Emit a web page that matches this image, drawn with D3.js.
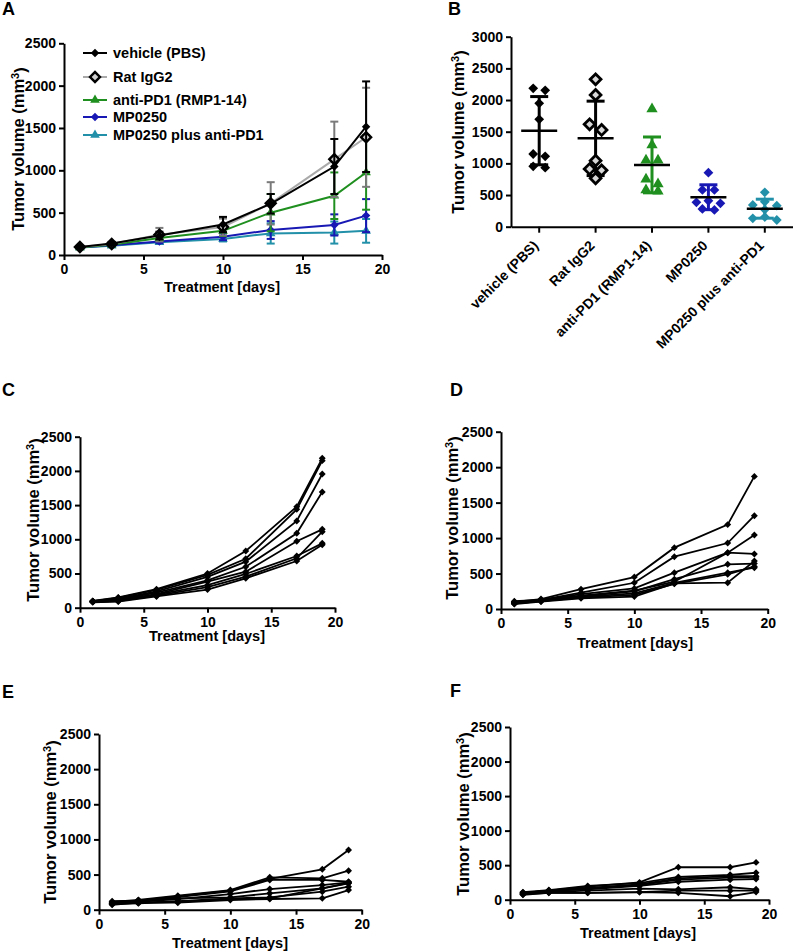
<!DOCTYPE html>
<html>
<head>
<meta charset="utf-8">
<script src="https://cdn.jsdelivr.net/npm/d3@7"></script>
<style>
body { margin: 0; background: #fff; }
svg text { font-family: "Liberation Sans", Arial, sans-serif; font-weight: bold; fill: #000; }
.tick text { font-size: 14px; }
.title { font-size: 14.5px; }
.ytitle { font-size: 16.5px; }
.plabel { font-size: 18px; }
.legend { font-size: 14.5px; }
</style>
</head>
<body>
<script>
const days = [1, 3, 6, 10, 13, 17, 19];
const groups = ["vehicle (PBS)", "Rat IgG2", "anti-PD1 (RMP1-14)", "MP0250", "MP0250 plus anti-PD1"];
const lineColors = ["#000000", "#a9a9a9", "#1f8f1f", "#1818b4", "#2190a8"];
const barColors = ["#000000", "#7a7a7a", "#1f8f1f", "#1818b4", "#2190a8"];

// A: group mean and SD per day
const meanVehicle = [95, 135, 230, 360, 605, 1045, 1515];
const sdVehicle = [10, 20, 45, 90, 115, 325, 535];
const meanIgG = [95, 130, 240, 330, 610, 1130, 1390];
const sdIgG = [10, 15, 80, 100, 250, 445, 585];
const meanAntiPD1 = [90, 120, 200, 285, 500, 700, 975];
const sdAntiPD1 = [10, 15, 30, 60, 220, 275, 440];
const meanMP0250 = [90, 115, 160, 215, 295, 355, 465];
const sdMP0250 = [8, 15, 20, 40, 105, 125, 195];
const meanCombo = [90, 110, 150, 190, 255, 265, 285];
const sdCombo = [8, 10, 20, 30, 120, 130, 140];

// B: individual volumes at day 19
const endVehicle = [2185, 2154, 1948, 1696, 1148, 1111, 953, 932];
const endIgG = [2327, 2080, 1617, 1527, 1042, 911, 890, 764];
const endAntiPD1 = [1858, 1290, 1048, 1048, 748, 674, 579, 560];
const endMP0250 = [853, 580, 580, 410, 385, 369, 280, 265];
const endCombo = [543, 395, 343, 332, 270, 153, 132, 106];

// C-F: single mice growth curves
const miceVehicle = [
  [100, 150, 270, 500, 829, 1477, 2184],
  [95, 145, 260, 480, 716, 1438, 2150],
  [95, 130, 240, 450, 673, 1268, 1955],
  [90, 120, 220, 400, 599, 1088, 1692],
  [90, 110, 200, 380, 526, 971, 1146],
  [85, 100, 190, 330, 493, 756, 941],
  [85, 95, 175, 300, 453, 722, 1111],
  [80, 90, 165, 265, 430, 683, 921]
];
const miceAntiPD1 = [
  [100, 140, 280, 450, 865, 1190, 1870],
  [110, 130, 230, 370, 738, 930, 1316],
  [95, 125, 210, 290, 512, 794, 1043],
  [90, 120, 190, 260, 385, 794, 776],
  [85, 115, 180, 250, 420, 630, 640],
  [80, 110, 170, 220, 370, 512, 582],
  [75, 110, 160, 200, 355, 489, 600],
  [70, 105, 150, 175, 360, 371, 677]
];
const miceMP0250 = [
  [90, 130, 190, 270, 440, 575, 850],
  [110, 140, 200, 280, 461, 447, 555],
  [100, 130, 180, 260, 423, 423, 398],
  [80, 110, 150, 223, 294, 351, 390],
  [120, 130, 160, 176, 233, 304, 375],
  [70, 100, 120, 160, 176, 256, 327],
  [80, 90, 110, 150, 160, 304, 380],
  [90, 100, 100, 138, 152, 162, 280]
];
const miceCombo = [
  [100, 130, 190, 250, 470, 470, 540],
  [110, 140, 200, 240, 330, 360, 390],
  [90, 130, 170, 220, 310, 340, 340],
  [80, 120, 160, 210, 290, 320, 330],
  [100, 130, 150, 200, 260, 290, 300],
  [90, 110, 130, 160, 150, 180, 150],
  [70, 100, 100, 110, 130, 130, 130],
  [80, 100, 100, 110, 100, 50, 110]
];

const xTicks = [0, 5, 10, 15, 20];
const fmt = d3.format("d");

const svg = d3.select("body").append("svg")
  .attr("width", 793)
  .attr("height", 951);

function styleAxis(sel) {
  sel.attr("font-family", null).attr("font-size", null);
  sel.select(".domain").attr("stroke-width", 2);
  sel.selectAll(".tick line").attr("stroke-width", 2);
}

function diamond(size) {
  return d3.symbol().type(d3.symbolSquare).size(size)();
}
function triangle(size) {
  return d3.symbol().type(d3.symbolTriangle).size(size)();
}

function yTitle(x, y) {
  const t = svg.append("text").attr("class", "ytitle")
    .attr("transform", "translate(" + x + "," + y + ") rotate(-90)")
    .attr("text-anchor", "middle");
  t.append("tspan").text("Tumor volume (mm");
  t.append("tspan").attr("dy", "-0.45em").style("font-size", "11px").text("3");
  t.append("tspan").attr("dy", "0.45em").text(")");
}

function panelLabel(txt, x, y) {
  svg.append("text").attr("class", "plabel").attr("x", x).attr("y", y).text(txt);
}

// time course panel with shared axes
function timePanel(p) {
  const x = d3.scaleLinear().domain([0, 20]).range([p.left, p.right]);
  const y = d3.scaleLinear().domain([0, 2500]).range([p.bottom, p.top]);

  svg.append("g")
    .attr("transform", "translate(0," + p.bottom + ")")
    .call(d3.axisBottom(x).tickValues(xTicks).tickFormat(fmt).tickSize(5).tickSizeOuter(0).tickPadding(4))
    .call(styleAxis);
  svg.append("g")
    .attr("transform", "translate(" + p.left + ",0)")
    .call(d3.axisLeft(y).tickValues(d3.range(0, 2501, 500)).tickFormat(fmt).tickSize(5).tickSizeOuter(0).tickPadding(3))
    .call(styleAxis);

  svg.append("text").attr("class", "title")
    .attr("x", p.xtx).attr("y", p.xty)
    .attr("text-anchor", "middle")
    .text("Treatment [days]");
  yTitle(p.ytx, p.yty);
  panelLabel(p.label, p.lx, p.ly);
  return { x: x, y: y };
}

function miceLines(sc, mice) {
  const line = d3.line()
    .x((d, i) => sc.x(days[i]))
    .y(d => sc.y(d));
  const g = svg.append("g");
  g.selectAll("path.mouse")
    .data(mice)
    .enter().append("path")
    .attr("class", "mouse")
    .attr("d", line)
    .attr("fill", "none")
    .attr("stroke", "#000")
    .attr("stroke-width", 1.8);
  mice.forEach(m => {
    g.selectAll(null)
      .data(m)
      .enter().append("path")
      .attr("d", diamond(24))
      .attr("transform", (d, i) => "translate(" + sc.x(days[i]) + "," + sc.y(d) + ") rotate(45)")
      .attr("fill", "#000");
  });
}

// ---------- A ----------
const scA = timePanel({ left: 64, right: 382, top: 43.3, bottom: 255,
  xtx: 222, xty: 292, ytx: 24, yty: 149, label: "A", lx: 2, ly: 15 });

const meansA = [meanVehicle, meanIgG, meanAntiPD1, meanMP0250, meanCombo];
const sdsA = [sdVehicle, sdIgG, sdAntiPD1, sdMP0250, sdCombo];

function marker(sel, gi) {
  if (gi === 0 || gi === 3) {
    sel.append("path").attr("d", diamond(36)).attr("transform", "rotate(45)")
      .attr("fill", lineColors[gi]);
  } else if (gi === 1) {
    sel.append("path").attr("d", diamond(50)).attr("transform", "rotate(45)")
      .attr("fill", "#cfcfcf").attr("stroke", "#000").attr("stroke-width", 2.4);
  } else {
    sel.append("path").attr("d", triangle(40))
      .attr("fill", lineColors[gi]);
  }
}

const lineA = d3.line().x((d, i) => scA.x(days[i])).y(d => scA.y(d));
[4, 3, 2, 1, 0].forEach(gi => {
  const g = svg.append("g");
  const mean = meansA[gi], sd = sdsA[gi];
  const rows = mean.map((m, i) => ({ day: days[i], m: m, s: sd[i] }));
  const eb = g.selectAll("g.err").data(rows).enter().append("g")
    .attr("stroke", barColors[gi]).attr("stroke-width", 2);
  eb.append("line")
    .attr("x1", d => scA.x(d.day)).attr("x2", d => scA.x(d.day))
    .attr("y1", d => scA.y(d.m + d.s)).attr("y2", d => scA.y(Math.max(0, d.m - d.s)));
  eb.append("line")
    .attr("x1", d => scA.x(d.day) - 4).attr("x2", d => scA.x(d.day) + 4)
    .attr("y1", d => scA.y(d.m + d.s)).attr("y2", d => scA.y(d.m + d.s));
  eb.append("line")
    .attr("x1", d => scA.x(d.day) - 4).attr("x2", d => scA.x(d.day) + 4)
    .attr("y1", d => scA.y(Math.max(0, d.m - d.s))).attr("y2", d => scA.y(Math.max(0, d.m - d.s)));
  g.append("path").attr("d", lineA(mean))
    .attr("fill", "none").attr("stroke", lineColors[gi]).attr("stroke-width", 2);
  g.selectAll("g.mk").data(rows).enter().append("g")
    .attr("transform", d => "translate(" + scA.x(d.day) + "," + scA.y(d.m) + ")")
    .each(function () { marker(d3.select(this), gi); });
});

// legend
const legendY = [53, 77, 100, 117, 135];
groups.forEach((name, gi) => {
  const g = svg.append("g").attr("transform", "translate(83," + legendY[gi] + ")");
  g.append("line").attr("x1", 0).attr("x2", 24)
    .attr("stroke", lineColors[gi]).attr("stroke-width", 2);
  const m = g.append("g").attr("transform", "translate(12,0)");
  marker(m, gi);
  g.append("text").attr("class", "legend").attr("x", 30).attr("dy", "0.36em").text(name);
});

// ---------- B ----------
const endsB = [endVehicle, endIgG, endAntiPD1, endMP0250, endCombo];
const xB = d3.scaleBand().domain(groups).range([511, 793]);
const yB = d3.scaleLinear().domain([0, 3000]).range([226.7, 36.7]);

svg.append("g")
  .attr("transform", "translate(0,226.7)")
  .call(d3.axisBottom(xB).tickSize(6).tickSizeOuter(0))
  .call(styleAxis)
  .selectAll(".tick text")
  .attr("x", -14).attr("y", 14).attr("dy", "0")
  .attr("text-anchor", "end")
  .attr("transform", "rotate(-45)");
svg.append("g")
  .attr("transform", "translate(511,0)")
  .call(d3.axisLeft(yB).tickValues(d3.range(0, 3001, 500)).tickFormat(fmt).tickSize(5).tickSizeOuter(0).tickPadding(3))
  .call(styleAxis);
yTitle(464, 132);
panelLabel("B", 448, 15);

function spread(vals, step) {
  // group close values and spread them sideways
  const sorted = vals.map((v, i) => ({ v: v, i: i })).sort((a, b) => b.v - a.v);
  const out = [];
  let cluster = [];
  const flush = () => {
    const n = cluster.length;
    cluster.forEach((c, k) => {
      let off;
      if (n % 2 === 1) off = k === 0 ? 0 : (k % 2 === 1 ? -1 : 1) * Math.ceil(k / 2) * step;
      else off = (k % 2 === 0 ? -1 : 1) * (Math.floor(k / 2) + 0.5) * step;
      out.push({ v: c.v, off: off });
    });
    cluster = [];
  };
  sorted.forEach(c => {
    if (cluster.length && yB(c.v) - yB(cluster[0].v) > 7) flush();
    cluster.push(c);
  });
  flush();
  return out;
}

endsB.forEach((vals, gi) => {
  const cx = xB(groups[gi]) + xB.bandwidth() / 2;
  const mean = d3.mean(vals), sd = d3.deviation(vals);
  const g = svg.append("g");
  const col = barColors[gi] === "#7a7a7a" ? "#000" : barColors[gi];
  g.append("line").attr("x1", cx).attr("x2", cx)
    .attr("y1", yB(mean + sd)).attr("y2", yB(mean - sd))
    .attr("stroke", col).attr("stroke-width", 3);
  [mean + sd, mean - sd].forEach(v => {
    g.append("line").attr("x1", cx - 9).attr("x2", cx + 9)
      .attr("y1", yB(v)).attr("y2", yB(v))
      .attr("stroke", col).attr("stroke-width", 3);
  });
  const pts = spread(vals, 12);
  g.selectAll("g.pt").data(pts).enter().append("g")
    .attr("transform", d => "translate(" + (cx + d.off) + "," + yB(d.v) + ")")
    .each(function () {
      const s = d3.select(this);
      if (gi === 1) {
        s.append("path").attr("d", diamond(58)).attr("transform", "rotate(45)")
          .attr("fill", "#d8d8d8").attr("stroke", "#000").attr("stroke-width", 2.8);
      } else if (gi === 2) {
        s.append("path").attr("d", triangle(55)).attr("fill", lineColors[gi]);
      } else {
        s.append("path").attr("d", diamond(48)).attr("transform", "rotate(45)").attr("fill", lineColors[gi]);
      }
    });
  g.append("line").attr("x1", cx - 18).attr("x2", cx + 18)
    .attr("y1", yB(mean)).attr("y2", yB(mean))
    .attr("stroke", "#000").attr("stroke-width", 2.5);
});

// ---------- C-F ----------
const scC = timePanel({ left: 80, right: 335, top: 436.7, bottom: 607.7,
  xtx: 207, xty: 641, ytx: 39, yty: 520, label: "C", lx: 2, ly: 396 });
miceLines(scC, miceVehicle);

const scD = timePanel({ left: 501, right: 767.7, top: 431.7, bottom: 609,
  xtx: 635, xty: 648, ytx: 458, yty: 518, label: "D", lx: 450, ly: 396 });
miceLines(scD, miceAntiPD1);

const scE = timePanel({ left: 99, right: 361.7, top: 734, bottom: 909.7,
  xtx: 230, xty: 948, ytx: 56, yty: 822, label: "E", lx: 2, ly: 698 });
miceLines(scE, miceMP0250);

const scF = timePanel({ left: 510, right: 769, top: 727, bottom: 899.7,
  xtx: 638, xty: 938, ytx: 469, yty: 814, label: "F", lx: 450, ly: 697 });
miceLines(scF, miceCombo);
</script>
</body>
</html>
